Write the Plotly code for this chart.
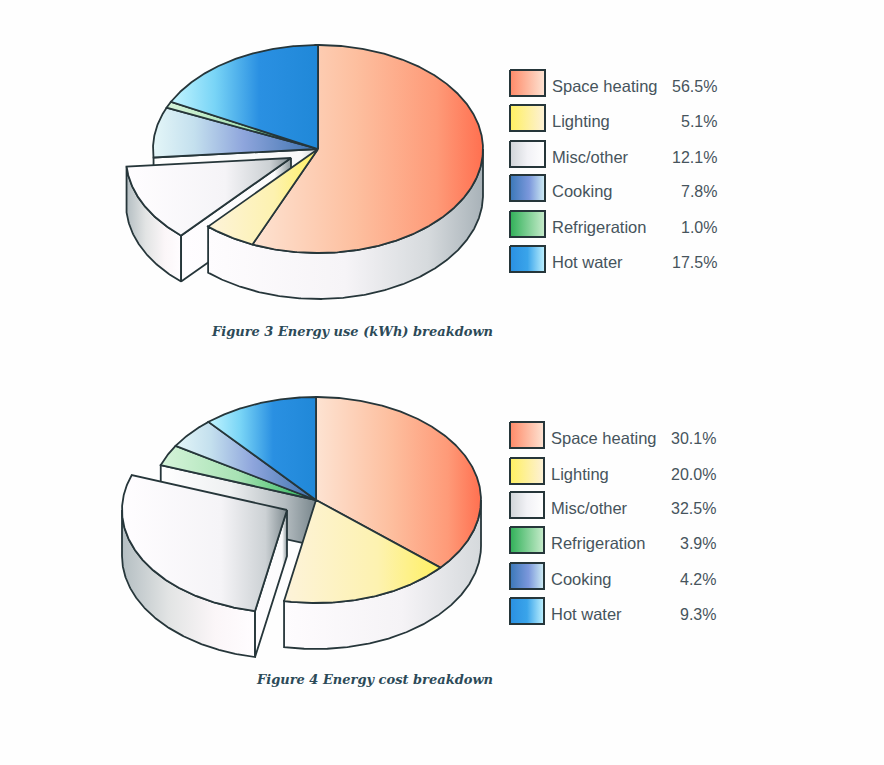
import numpy as np
import plotly.graph_objects as go

# ---- data ----
fig3_categories = ["Space heating", "Lighting", "Misc/other", "Cooking", "Refrigeration", "Hot water"]
fig3_percent = [56.5, 5.1, 12.1, 7.8, 1.0, 17.5]
fig3_drawn = [56.5, 5.1, 12.1, 7.8, 1.0, 17.5]

fig4_categories = ["Space heating", "Lighting", "Misc/other", "Refrigeration", "Cooking", "Hot water"]
fig4_percent = [30.1, 20.0, 32.5, 3.9, 4.2, 9.3]
# the printed slices of figure 4 do not follow the printed percentages: sizes as drawn
fig4_drawn = [36.4, 16.7, 27.4, 3.3, 4.9, 11.3]

fig3_caption = "Figure 3 Energy use (kWh) breakdown"
fig4_caption = "Figure 4 Energy cost breakdown"

# ---- styling ----
INK = "#26363a"
TEXT = "#46545c"
CAPTION = "#2c4a58"
GRAD = {
    "Space heating": [[0, "#fde3d2"], [0.45, "#fdbf9f"], [0.8, "#fe9a78"], [1, "#ff7050"]],
    "Lighting": [[0, "#fdf3da"], [0.6, "#fdf2b0"], [1, "#fff060"]],
    "Misc/other": [[0, "#fffdff"], [0.6, "#f5f4f7"], [0.87, "#ccd1d4"], [1, "#7f8b90"]],
    "Cooking": [[0, "#e4f6f8"], [0.25, "#c4e0ee"], [0.55, "#8ea5dc"], [1, "#3a70ac"]],
    "Refrigeration": [[0, "#d6f4da"], [0.5, "#a8e2b4"], [1, "#25b455"]],
    "Hot water": [[0, "#c4f6ff"], [0.3, "#78d4f6"], [0.6, "#2a90e2"], [1, "#2088d8"]],
}
SWATCH = {
    "Space heating": [[0, "#ff8a68"], [1, "#fde4d4"]],
    "Lighting": [[0, "#fff060"], [1, "#fdf1d8"]],
    "Misc/other": [[0, "#d0d4d8"], [0.5, "#f2f2f6"], [1, "#ffffff"]],
    "Cooking": [[0, "#3a78b8"], [0.55, "#7c98dc"], [1, "#d0eef4"]],
    "Refrigeration": [[0, "#30b058"], [1, "#c8eccc"]],
    "Hot water": [[0, "#2a90e2"], [0.5, "#3aa4ea"], [1, "#c0f2ff"]],
}
WALL_R = [[0, "#fefcfe"], [0.5, "#f6f4f7"], [0.8, "#d6dadd"], [1, "#a8b2b8"]]
WALL_L = [[0, "#b4bec2"], [0.35, "#e2e4e4"], [0.7, "#fbf6f8"], [1, "#fffdff"]]

fig = go.Figure()


def poly(xs, ys, grad, name, lw=1.8):
    fig.add_trace(go.Scatter(
        x=list(xs) + [xs[0]], y=list(ys) + [ys[0]], mode="lines", fill="toself",
        fillgradient=dict(type="horizontal", colorscale=grad),
        line=dict(color=INK, width=lw), name=name, hoverinfo="name", showlegend=False))


def pt(cx, cy, rx, ry, deg):
    t = np.radians(deg)
    return cx + rx * np.sin(t), cy - ry * np.cos(t)


def arc(cx, cy, rx, ry, a0, a1):
    d = np.linspace(a0, a1, max(int(abs(a1 - a0)) * 2, 6))
    return pt(cx, cy, rx, ry, d)


def wedge(cx, cy, rx, ry, a0, a1, grad, name):
    x, y = arc(cx, cy, rx, ry, a0, a1)
    poly([cx] + list(x), [cy] + list(y), grad, name)


def band(x, y, depth, grad, name):
    poly(list(x) + list(x[::-1]), list(y) + list((y + depth)[::-1]), grad, name)


def pie3d(cats, shares, cx, cy, rx, ry, depth, off, cavity):
    edges = np.concatenate([[0], np.cumsum(shares)]) / np.sum(shares) * 360
    i = cats.index("Misc/other")
    m0, m1 = edges[i], edges[i + 1]
    ox, oy = cx + off[0], cy + off[1]

    # wall of the gap left by the pulled slice
    ex, ey = pt(cx, cy, rx, ry, m1)
    band(np.array([cx, ex]), np.array([cy, ey]), depth, cavity, "gap wall")

    # pulled slice: rim and cut face sit behind the main body
    x, y = arc(ox, oy, rx, ry, m0, min(m1, 270))
    band(x, y, depth, WALL_L, "pulled rim")
    ex, ey = pt(ox, oy, rx, ry, m0)
    band(np.array([ex, ox]), np.array([ey, oy]), depth,
         [[0, "#fffdff"], [0.85, "#fbfbfc"], [1, "#8a969a"]], "pulled face")

    # outer rim of the pie, in front
    x, y = arc(cx, cy, rx, ry, 90, m0)
    band(x, y, depth, WALL_R if m0 > 200 else [[0, "#fefcfe"], [0.6, "#f5f3f6"], [1, "#d5d9dc"]], "rim")

    # tops
    for k, c in enumerate(cats):
        if k != i:
            wedge(cx, cy, rx, ry, edges[k], edges[k + 1], GRAD[c], c)
    wedge(ox, oy, rx, ry, m0, m1, GRAD["Misc/other"], "Misc/other")


def legend(cats, pct, left, right, rows, pct_right, label_x):
    for c, p, r in zip(cats, pct, rows):
        poly([left, right, right, left], [r - 13, r - 13, r + 13, r + 13], SWATCH[c], c + " key", 2)
        fig.add_annotation(x=label_x, y=r + 3, text=c, xanchor="left", yanchor="middle", showarrow=False,
                           font=dict(family="Liberation Sans", size=16.5, color=TEXT))
        fig.add_annotation(x=pct_right, y=r + 3, text=f"{p:.1f}%", xanchor="right", yanchor="middle", showarrow=False,
                           font=dict(family="Liberation Sans", size=16, color=TEXT))


pie3d(fig3_categories, fig3_drawn, 318, 149, 165, 104, 46, (-27, 9),
      [[0, "#ffffff"], [0.9, "#f8f8f8"], [1, "#c8ced2"]])
pie3d(fig4_categories, fig4_drawn, 316, 500, 165, 103, 46, (-29, 10),
      [[0, "#ffffff"], [0.45, "#eef0f1"], [0.8, "#b4bcc0"], [1, "#78868c"]])

legend(fig3_categories, fig3_percent, 510, 545, [83, 118, 154, 188, 224, 259], 719, 550)
legend(fig4_categories, fig4_percent, 510, 544, [435, 471, 505, 540, 576, 611], 718, 549)

for text, y in ((fig3_caption, 331), (fig4_caption, 679)):
    fig.add_annotation(x=495, y=y, text=f"<b><i>{text}</i></b>", xanchor="right", yanchor="middle", showarrow=False,
                       font=dict(family="DejaVu Serif", size=13, color=CAPTION))

fig.update_layout(
    width=884, height=765, margin=dict(l=0, r=0, t=0, b=0),
    paper_bgcolor="#fefefe", plot_bgcolor="#fefefe", showlegend=False,
    xaxis=dict(range=[0, 884], visible=False, fixedrange=True),
    yaxis=dict(range=[765, 0], visible=False, fixedrange=True),
)
fig.write_html("out.html", config=dict(displayModeBar=False),
               post_script="document.body.style.margin='0';document.body.style.overflow='hidden';")
